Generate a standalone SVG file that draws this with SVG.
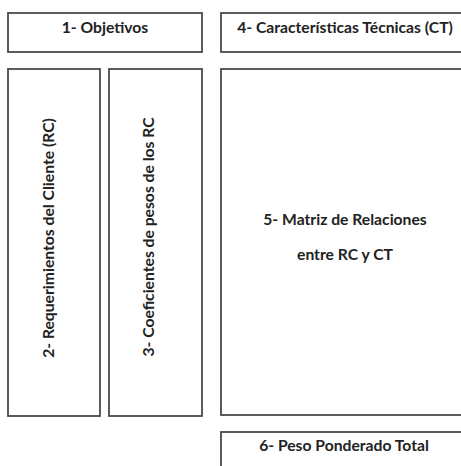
<svg xmlns="http://www.w3.org/2000/svg" width="461" height="466" viewBox="0 0 461 466">
<style>
.box{fill:#fff;stroke:#4a4a4a;stroke-width:1.8}
.t{font-family:Lato,"Open Sans","Liberation Sans",sans-serif;font-weight:bold;font-size:15.7px;fill:#222;text-anchor:middle;dominant-baseline:central}
</style>
<rect width="461" height="466" fill="#fff"/>
<g id="n1"><rect class="box" x="8" y="13" width="194" height="39"/><text class="t" x="105" y="27">1- Objetivos</text></g>
<g id="n4"><rect class="box" x="221" y="13" width="250" height="39"/><text class="t" x="345" y="27">4- Características Técnicas (CT)</text></g>
<g id="n2"><rect class="box" x="8" y="69" width="92" height="347"/><text class="t" transform="translate(48,238) rotate(-90)" x="0" y="0">2- Requerimientos del Cliente (RC)</text></g>
<g id="n3"><rect class="box" x="109" y="69" width="93" height="347"/><text class="t" transform="translate(148,237) rotate(-90)" x="0" y="0">3- Coeficientes de pesos de los RC</text></g>
<g id="n5"><rect class="box" x="221" y="69" width="250" height="346"/><text class="t" x="345" y="219">5- Matriz de Relaciones</text><text class="t" x="345" y="254">entre RC y CT</text></g>
<g id="n6"><rect class="box" x="221" y="432" width="250" height="50"/><text class="t" x="344" y="445">6- Peso Ponderado Total</text></g>
<g id="connectors"></g>
</svg>
